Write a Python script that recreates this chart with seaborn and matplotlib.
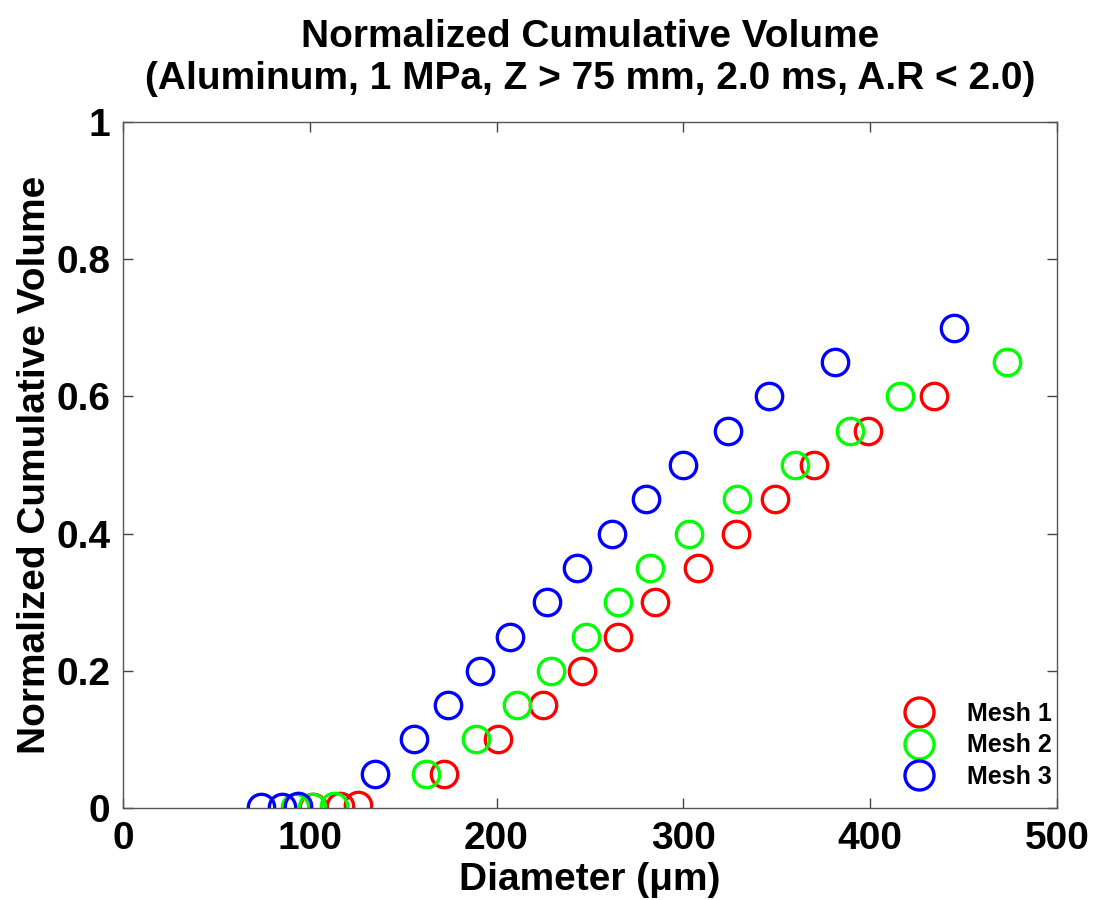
import matplotlib
matplotlib.use("Agg")
import matplotlib.pyplot as plt
import seaborn as sns

# ---- data ----
mesh1_d = [102, 116, 126, 172, 201, 225, 246, 265, 285, 308, 328, 349, 370, 399, 434]
mesh1_v = [0.002, 0.003, 0.005, 0.05, 0.10, 0.15, 0.20, 0.25, 0.30, 0.35, 0.40, 0.45, 0.50, 0.55, 0.60]

mesh2_d = [92, 101, 113, 162, 189, 211, 229, 248, 265, 282, 303, 329, 360, 389, 416, 473]
mesh2_v = [0.001, 0.002, 0.003, 0.05, 0.10, 0.15, 0.20, 0.25, 0.30, 0.35, 0.40, 0.45, 0.50, 0.55, 0.60, 0.65]

mesh3_d = [74, 85, 94, 135, 156, 174, 191, 207, 227, 243, 262, 280, 300, 324, 346, 381, 445]
mesh3_v = [0.001, 0.002, 0.003, 0.05, 0.10, 0.15, 0.20, 0.25, 0.30, 0.35, 0.40, 0.45, 0.50, 0.55, 0.60, 0.65, 0.70]

labels = ["Mesh 1", "Mesh 2", "Mesh 3"]
colors = ["#ff0000", "#00ff00", "#0000ff"]
x_ticks = [0, 100, 200, 300, 400, 500]
y_ticks = [0, 0.2, 0.4, 0.6, 0.8, 1]
y_tick_labels = ["0", "0.2", "0.4", "0.6", "0.8", "1"]

sns.set_theme(style="white")
plt.rcParams["font.family"] = ["Liberation Sans", "DejaVu Sans"]
plt.rcParams["font.weight"] = "bold"
plt.rcParams["text.color"] = "black"
plt.rcParams["axes.labelcolor"] = "black"
plt.rcParams["xtick.color"] = "black"
plt.rcParams["ytick.color"] = "black"

fig = plt.figure(figsize=(10.97, 9.0), dpi=100)
ax = fig.add_axes([0.112, 0.1022, 0.8515, 0.7622])

series = [(mesh1_d, mesh1_v), (mesh2_d, mesh2_v), (mesh3_d, mesh3_v)]
for (d, v), lab, c in zip(series, labels, colors):
    sns.lineplot(x=d, y=v, ax=ax, estimator=None, sort=False,
                 linestyle="", marker="o", markersize=19,
                 markerfacecolor="none", markeredgecolor=c, color=c,
                 markeredgewidth=2.4, label=lab)

ax.set_xlim(0, 500)
ax.set_ylim(0, 1)
ax.set_xticks(x_ticks)
ax.set_xticklabels([str(t) for t in x_ticks])
ax.set_yticks(y_ticks)
ax.set_yticklabels(y_tick_labels)

ax.tick_params(axis="both", direction="in", length=7, width=1,
               labelsize=28, top=True, right=True, bottom=True, left=True)
ax.tick_params(axis="both", which="both", colors="#444444", labelcolor="black")
ax.tick_params(axis="x", pad=9)
ax.tick_params(axis="y", pad=9)
for lab in ax.get_xticklabels() + ax.get_yticklabels():
    lab.set_fontweight("bold")

for sp in ax.spines.values():
    sp.set_visible(True)
    sp.set_color("#555555")
    sp.set_linewidth(1.0)

ax.set_xlabel("Diameter (\u03bcm)", fontsize=28, fontweight="bold", labelpad=4, color="black")
ax.set_ylabel("Normalized Cumulative Volume", fontsize=28, fontweight="bold", labelpad=2, color="black")
ax.set_title("Normalized Cumulative Volume\n(Aluminum, 1 MPa, Z > 75 mm, 2.0 ms, A.R < 2.0)",
             fontsize=28, fontweight="bold", pad=24, linespacing=1.22, color="black")

leg = ax.legend(loc="lower right", frameon=False, markerscale=1.1,
                handletextpad=0.95, labelspacing=0.3, borderpad=0.0,
                borderaxespad=0.0, bbox_to_anchor=(0.995, 0.028),
                prop={"weight": "bold", "size": 18})
for t in leg.get_texts():
    t.set_color("black")

fig.savefig("out.png", dpi=100, facecolor="white")
